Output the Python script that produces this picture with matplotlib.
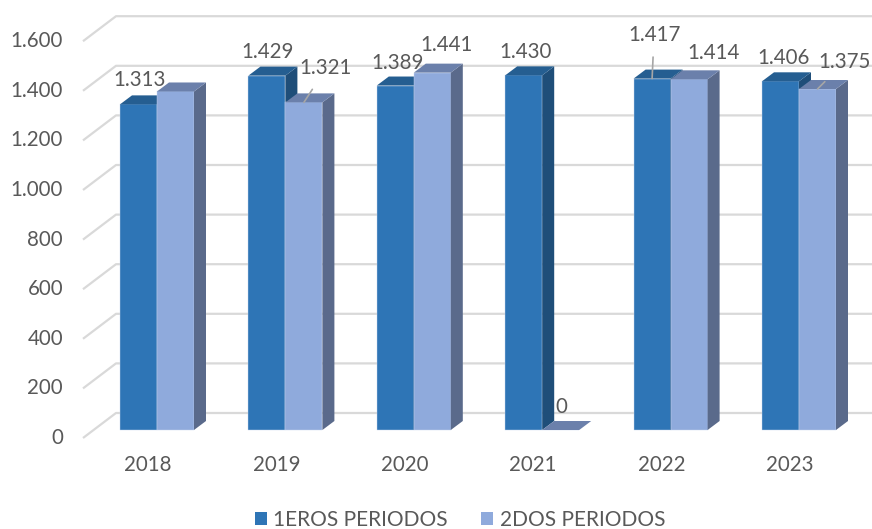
import matplotlib
matplotlib.use('Agg')
import matplotlib.pyplot as plt
from matplotlib.patches import Polygon, Patch

# data
years = ['2018', '2019', '2020', '2021', '2022', '2023']
primeros = [1313, 1429, 1389, 1430, 1417, 1406]
segundos = [1365, 1321, 1441, 0, 1414, 1375]
show_lbl1 = [True, True, True, True, True, True]
show_lbl2 = [False, True, True, True, True, True]
yticks = [0, 200, 400, 600, 800, 1000, 1200, 1400, 1600]
series_names = ['1EROS PERIODOS', '2DOS PERIODOS']

plt.rcParams['font.family'] = ['Lato', 'DejaVu Sans']
plt.rcParams['font.weight'] = 'normal'

# pixel geometry of the fake 3d view
PX_X = 128.4      # px per category
PX_Y = 0.248      # px per unit
W, H = 872, 529
X0_PX, BASE_PX = 157, 430
BAR_W = 37 / PX_X
DEPTH_X, DEPTH_Y = 12, 9
FS = 14.8


def ux(px):
    return px / PX_X


def uy(px):
    return px / PX_Y


front_cols = ['#2E75B6', '#8FAADC']
top_cols = ['#255E91', '#6B80AB']
side_cols = ['#1F4E79', '#5A6A8B']
grid_col = '#D9D9D9'
txt_col = '#595959'

fig = plt.figure(figsize=(W / 100, H / 100), dpi=100)
ax = fig.add_axes([0, 0, 1, 1])
ax.set_xlim(-X0_PX / PX_X, (W - X0_PX) / PX_X)
ax.set_ylim(-uy(H - BASE_PX), uy(BASE_PX))
ax.axis('off')

# back wall gridlines + diagonal side wall lines
x_front = ux(83 - X0_PX)
x_back = ux(116 - X0_PX)
x_end = ux(W - X0_PX)
for v in yticks:
    ax.plot([x_front, x_back, x_end], [v - uy(8), v + uy(17), v + uy(17)],
            color=grid_col, lw=1.6, zorder=1, solid_capstyle='butt')
    ax.text(x_front - ux(20), v - uy(8), f'{v:,}'.replace(',', '.'),
            ha='right', va='center', fontsize=FS, color=txt_col)

# bars: front face, side face, top face
dx, dy = ux(DEPTH_X), uy(DEPTH_Y)
for i, yr in enumerate(years):
    for s, vals in enumerate([primeros, segundos]):
        v = vals[i]
        left = i - BAR_W + s * BAR_W
        right = left + BAR_W
        ax.bar(left, v, width=BAR_W, align='edge', color=front_cols[s],
               edgecolor='#C9D6EC', linewidth=0.3, zorder=2)
        side = Polygon([(right, 0), (right + dx, dy), (right + dx, v + dy), (right, v)],
                       closed=True, facecolor=side_cols[s], edgecolor='none', zorder=2)
        top = Polygon([(left, v), (left + dx, v + dy), (right + dx, v + dy), (right, v)],
                      closed=True, facecolor=top_cols[s], edgecolor='none', zorder=2)
        ax.add_patch(side)
        ax.add_patch(top)
    ax.text(i - ux(9), -uy(35), yr, ha='center', va='center', fontsize=FS, color=txt_col)

# data labels (offsets in px, some with leader lines)
offs1 = [(1, 24), (1, 24), (2, 23), (2, 23), (2, 44), (3, 23)]
offs2 = [(0, 24), (22, 34), (14, 28), (1, 23), (24, 26), (27, 27)]
lead1 = [False, False, False, False, True, False]
lead2 = [False, True, False, False, False, True]
for s, (vals, shows, offs, leads) in enumerate([(primeros, show_lbl1, offs1, lead1),
                                                 (segundos, show_lbl2, offs2, lead2)]):
    for i, v in enumerate(vals):
        if not shows[i]:
            continue
        xc = i - BAR_W / 2 + s * BAR_W
        props = None
        if leads[i]:
            props = dict(arrowstyle='-', color='#A6A6A6', lw=1.2, shrinkA=7, shrinkB=0)
        ax.annotate(f'{v:,}'.replace(',', '.'), xy=(xc, v), xytext=offs[i],
                    textcoords='offset pixels', ha='center', va='center',
                    fontsize=FS, color=txt_col, arrowprops=props, zorder=5)

handles = [Patch(facecolor=front_cols[0]), Patch(facecolor=front_cols[1])]
fig.legend(handles, series_names, loc='center', bbox_to_anchor=(0.5275, 9.5 / H),
           ncol=2, frameon=False, fontsize=15, labelcolor=txt_col,
           handlelength=0.58, handleheight=0.58, handletextpad=0.3, columnspacing=1.6,
           borderpad=0)

fig.savefig('out.png', dpi=100)
